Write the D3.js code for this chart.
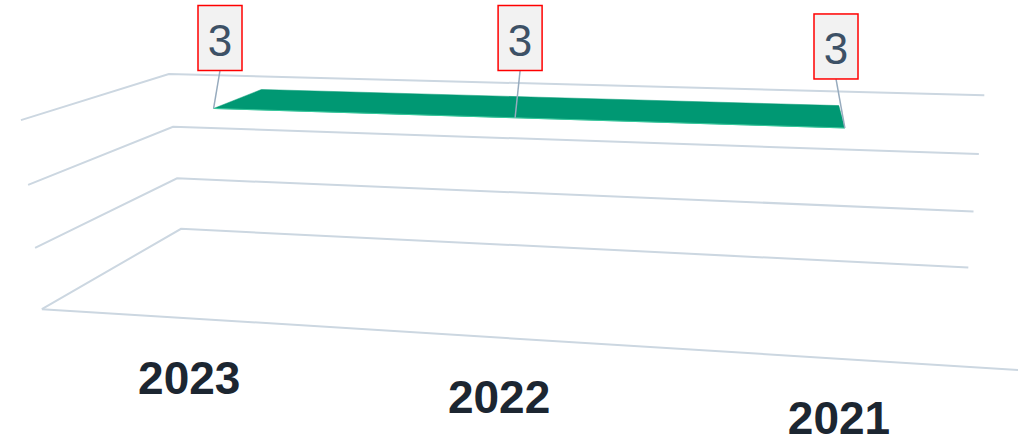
<!DOCTYPE html>
<html lang="en">
  <head>
    <meta charset="UTF-8" />
    <title>Chart</title>
    <script src="https://d3js.org/d3.v7.min.js"></script>
    <style>
      body { margin: 0; background: #fff; }
    </style>
  </head>
  <body>
    <div id="graph"></div>
    <script>
      // data
      const categories = ["2023", "2022", "2021"];
      const values = [3, 3, 3];
      const yTicks = [0, 1, 2, 3];

      const width = 1018,
        height = 438;

      // 3d view: projective camera (world x, y, z all in 0..1, z grows to the back)
      const view = [
        [845.181, -21.7379, 181.339, 41.8556],
        [12.8996, -193.809, -27.0178, 309.144],
        [-0.129584, -0.0400014, 0.232909, 1],
      ];
      function project(x, y, z) {
        const w = view[2][0] * x + view[2][1] * y + view[2][2] * z + view[2][3];
        return [
          (view[0][0] * x + view[0][1] * y + view[0][2] * z + view[0][3]) / w,
          (view[1][0] * x + view[1][1] * y + view[1][2] * z + view[1][3]) / w,
        ];
      }

      const x = d3.scaleBand().domain(categories).range([0, 1]);
      const cx = (c) => x(c) + x.bandwidth() / 2;
      const y = d3.scaleLinear().domain([0, 3]).range([0, 1]);
      const seriesZ = [0.3, 0.7]; // front and back of the area ribbon

      const svg = d3
        .select("#graph")
        .append("svg")
        .attr("width", width)
        .attr("height", height);

      const line = d3.line();
      const gridColor = "#ccd7e1";

      // grid lines on side wall and back wall
      svg
        .append("g")
        .selectAll("path")
        .data(yTicks)
        .join("path")
        .attr("d", (t) =>
          line([project(0, y(t), 0), project(0, y(t), 1), project(1, y(t), 1)])
        )
        .attr("fill", "none")
        .attr("stroke", gridColor)
        .attr("stroke-width", 2);

      // x axis line along the front of the floor
      svg
        .append("path")
        .attr("d", line([project(0, 0, 0), project(1, 0, 0)]))
        .attr("stroke", gridColor)
        .attr("stroke-width", 2);

      // area top face
      const front = categories.map((c, i) => project(cx(c), y(values[i]), seriesZ[0]));
      const back = categories.map((c, i) => project(cx(c), y(values[i]), seriesZ[1]));
      svg
        .append("path")
        .attr("d", line(front.concat(back.slice().reverse())) + "Z")
        .attr("fill", "#009873")
        .attr("stroke", "#009873")
        .attr("stroke-width", 0.5);
      svg
        .append("path")
        .attr("d", line(front))
        .attr("fill", "none")
        .attr("stroke", "#36c89c")
        .attr("stroke-width", 1);

      // axis labels
      svg
        .append("g")
        .selectAll("text")
        .data(categories)
        .join("text")
        .attr("x", (c) => project(cx(c), 0, 0)[0] + 2.5)
        .attr("y", (c) => project(cx(c), 0, 0)[1] + 75.5)
        .attr("text-anchor", "middle")
        .style("font-family", "'Liberation Sans', Arial, sans-serif")
        .style("font-weight", "bold")
        .style("font-size", "46px")
        .style("fill", "#1c2631")
        .text((c) => c);

      // data labels with connectors
      const boxW = 44,
        boxH = 65,
        lift = 49,
        shift = 5,
        bounds = { left: 198, right: 858, top: 5.5 };
      svg
        .append("g")
        .selectAll("g")
        .data(categories.map((c, i) => ({ c, v: values[i], p: front[i] })))
        .join("g")
        .each(function (d) {
          let bx = d.p[0] + shift - boxW / 2;
          bx = Math.max(bounds.left, Math.min(bounds.right - boxW, bx));
          let by = Math.max(bounds.top, d.p[1] - lift - boxH);
          const g = d3.select(this);
          g.append("line")
            .attr("x1", bx + boxW / 2)
            .attr("y1", by + boxH)
            .attr("x2", d.p[0])
            .attr("y2", d.p[1])
            .attr("stroke", "#97abbe")
            .attr("stroke-width", 1.5);
          g.append("rect")
            .attr("x", bx)
            .attr("y", by)
            .attr("width", boxW)
            .attr("height", boxH)
            .attr("fill", "#f2f2f2")
            .attr("stroke", "#ff0000")
            .attr("stroke-width", 1.5);
          g.append("text")
            .attr("x", bx + boxW / 2)
            .attr("y", by + boxH - 15)
            .attr("text-anchor", "middle")
            .style("font-family", "'Liberation Sans', Arial, sans-serif")
            .style("font-size", "44px")
            .style("fill", "#3d5166")
            .text(d.v);
        });
    </script>
  </body>
</html>
